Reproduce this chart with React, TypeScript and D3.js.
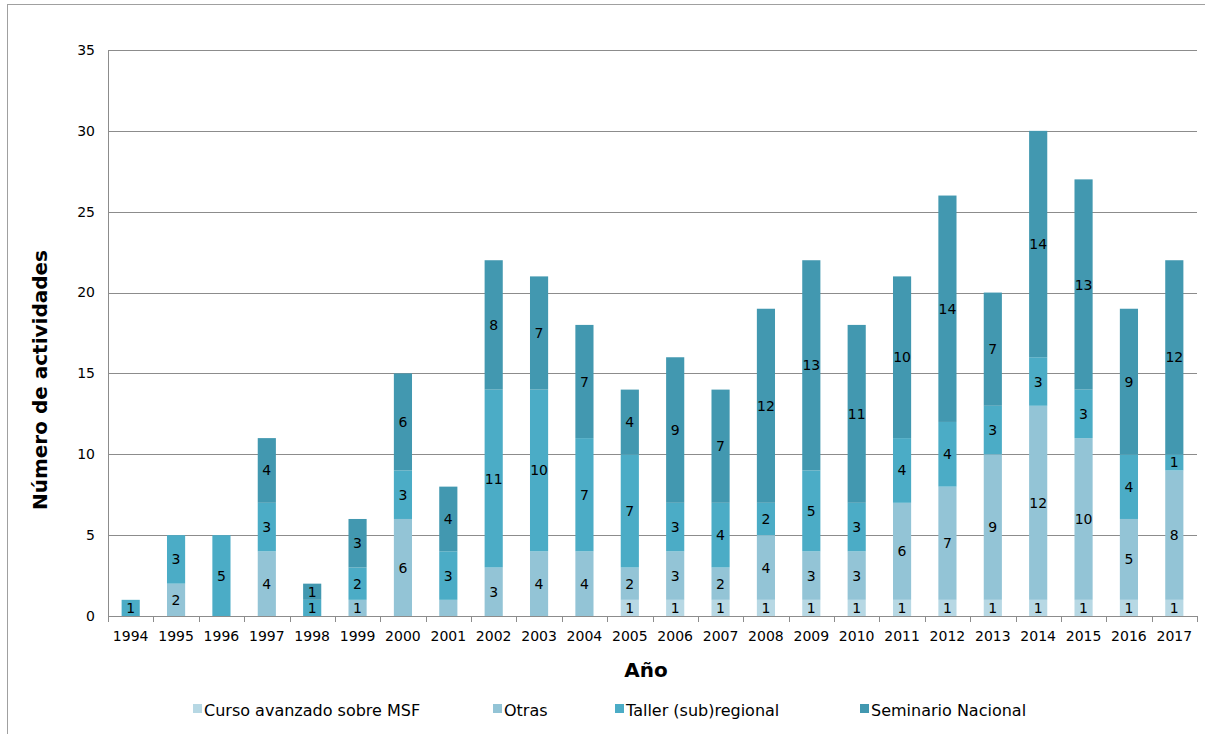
import { useEffect, useRef } from "react";
import * as d3 from "d3";

const years = [
  "1994", "1995", "1996", "1997", "1998", "1999", "2000", "2001",
  "2002", "2003", "2004", "2005", "2006", "2007", "2008", "2009",
  "2010", "2011", "2012", "2013", "2014", "2015", "2016", "2017",
];

const seriesNames = [
  "Curso avanzado sobre MSF",
  "Otras",
  "Taller (sub)regional",
  "Seminario Nacional",
];

const curso = [0, 0, 0, 0, 0, 0, 0, 0, 0, 0, 0, 1, 1, 1, 1, 1, 1, 1, 1, 1, 1, 1, 1, 1];
const otras = [0, 2, 0, 4, 0, 1, 6, 1, 3, 4, 4, 2, 3, 2, 4, 3, 3, 6, 7, 9, 12, 10, 5, 8];
const taller = [1, 3, 5, 3, 1, 2, 3, 3, 11, 10, 7, 7, 3, 4, 2, 5, 3, 4, 4, 3, 3, 3, 4, 1];
const seminario = [0, 0, 0, 4, 1, 3, 6, 4, 8, 7, 7, 4, 9, 7, 12, 13, 11, 10, 14, 7, 14, 13, 9, 12];

// segments whose value label is not shown in the original
const hiddenLabels = [["2001", "Otras"]];

const colors = ["#b7d8e4", "#93c4d6", "#4bacc6", "#4298b0"];
const yTicks = [0, 5, 10, 15, 20, 25, 30, 35];

const W = 1205;
const H = 734;
const FONT = "Verdana, 'DejaVu Sans', sans-serif";

export default function App() {
  const ref = useRef<SVGSVGElement>(null);

  useEffect(() => {
    if (!ref.current) return;
    const svg = d3.select(ref.current);
    svg.selectAll("*").remove();

    const left = 108;
    const right = 1197;
    const top = 50;
    const bottom = 616;

    const x = d3.scaleBand<string>().domain(years).range([left, right]).paddingInner(0.6).paddingOuter(0.3);
    const y = d3.scaleLinear().domain([0, 35]).range([bottom, top]);

    // outer frame
    svg.append("rect")
      .attr("x", 7.5).attr("y", 4.5)
      .attr("width", W).attr("height", H)
      .attr("fill", "white").attr("stroke", "#a0a0a0");

    // gridlines
    svg.append("g").selectAll("line")
      .data(yTicks.filter((t) => t > 0))
      .join("line")
      .attr("x1", left).attr("x2", right)
      .attr("y1", (d) => Math.round(y(d)) + 0.5)
      .attr("y2", (d) => Math.round(y(d)) + 0.5)
      .attr("stroke", "#8c8c8c");

    svg.append("g").selectAll("text")
      .data(yTicks)
      .join("text")
      .attr("x", 95).attr("y", (d) => y(d))
      .attr("dy", "0.35em")
      .attr("text-anchor", "end")
      .attr("font-family", FONT).attr("font-size", 14).attr("fill", "#000")
      .text((d) => d);

    const table = years.map((yr, i) => ({
      year: yr,
      [seriesNames[0]]: curso[i],
      [seriesNames[1]]: otras[i],
      [seriesNames[2]]: taller[i],
      [seriesNames[3]]: seminario[i],
    }));
    const stacked = d3.stack<any>().keys(seriesNames)(table);

    const layers = svg.append("g").selectAll("g")
      .data(stacked)
      .join("g")
      .attr("fill", (_, i) => colors[i]);

    layers.selectAll("rect")
      .data((d) => d.filter((s) => s[1] - s[0] > 0))
      .join("rect")
      .attr("x", (d) => x(d.data.year)!)
      .attr("width", x.bandwidth())
      .attr("y", (d) => y(d[1]))
      .attr("height", (d) => y(d[0]) - y(d[1]));

    const labels = svg.append("g");
    stacked.forEach((layer) => {
      layer.forEach((s) => {
        const v = s[1] - s[0];
        if (v <= 0) return;
        if (hiddenLabels.some(([yr, k]) => yr === s.data.year && k === layer.key)) return;
        labels.append("text")
          .attr("x", x(s.data.year)! + x.bandwidth() / 2)
          .attr("y", y((s[0] + s[1]) / 2))
          .attr("dy", "0.36em")
          .attr("text-anchor", "middle")
          .attr("font-family", FONT).attr("font-size", 14).attr("fill", "#000")
          .text(v);
      });
    });

    // axes lines
    svg.append("line")
      .attr("x1", left + 0.5).attr("x2", left + 0.5)
      .attr("y1", top).attr("y2", bottom)
      .attr("stroke", "#8c8c8c");
    svg.append("line")
      .attr("x1", left).attr("x2", right + 0.5)
      .attr("y1", bottom + 0.5).attr("y2", bottom + 0.5)
      .attr("stroke", "#8c8c8c");

    const step = x.step();
    svg.append("g").selectAll("line")
      .data(d3.range(years.length + 1))
      .join("line")
      .attr("x1", (i) => Math.round(left + i * step) + 0.5)
      .attr("x2", (i) => Math.round(left + i * step) + 0.5)
      .attr("y1", bottom).attr("y2", bottom + 6)
      .attr("stroke", "#8c8c8c");

    svg.append("g").selectAll("text")
      .data(years)
      .join("text")
      .attr("x", (d) => x(d)! + x.bandwidth() / 2)
      .attr("y", 636).attr("dy", "0.35em")
      .attr("text-anchor", "middle")
      .attr("font-family", FONT).attr("font-size", 14).attr("fill", "#000")
      .text((d) => d);

    // axis titles
    svg.append("text")
      .attr("x", 646).attr("y", 677)
      .attr("text-anchor", "middle")
      .attr("font-family", FONT).attr("font-size", 20).attr("font-weight", "bold")
      .text("Año");
    svg.append("text")
      .attr("transform", `translate(40,380) rotate(-90)`)
      .attr("dy", "0.35em")
      .attr("text-anchor", "middle")
      .attr("font-family", FONT).attr("font-size", 20).attr("font-weight", "bold")
      .text("Número de actividades");

    // legend
    const legendX = [193, 493, 615, 860];
    const lg = svg.append("g").selectAll("g")
      .data(seriesNames)
      .join("g")
      .attr("transform", (_, i) => `translate(${legendX[i]},716)`);
    lg.append("rect")
      .attr("x", 0).attr("y", -12).attr("width", 9).attr("height", 9)
      .attr("fill", (_, i) => colors[i]);
    lg.append("text")
      .attr("x", 11)
      .attr("font-family", FONT).attr("font-size", 16).attr("fill", "#000")
      .text((d) => d);
  }, []);

  return (
    <svg
      ref={ref}
      width={W}
      height={H}
      style={{ position: "absolute", left: 0, top: 0, display: "block", background: "white" }}
    />
  );
}
